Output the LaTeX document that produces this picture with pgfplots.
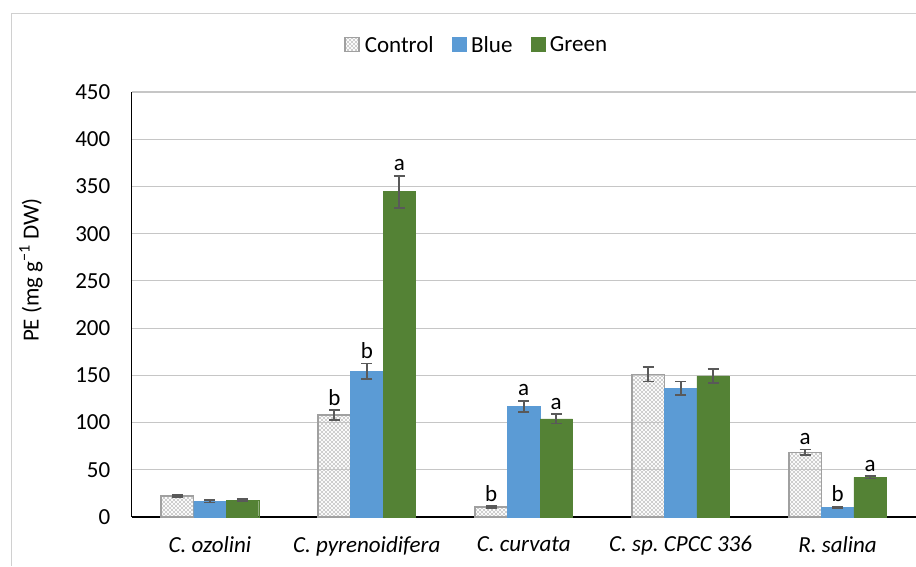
\documentclass[border=0pt]{standalone}
\usepackage{pgfplots}
\pgfplotsset{compat=1.18}
\usepackage{pgfplotstable}
\usepackage{fontspec}
\setmainfont{Carlito}
\usetikzlibrary{patterns}
\definecolor{barblue}{HTML}{5B9BD5}
\definecolor{bargreen}{HTML}{548235}
\definecolor{ctrlgray}{HTML}{A0A0A0}
\definecolor{hatchgray}{HTML}{C4C4C4}
\definecolor{errgray}{HTML}{595959}
\definecolor{gridgray}{HTML}{C6C6C6}
\definecolor{framegray}{HTML}{D0D0D0}
\frenchspacing

\pgfdeclarepatternformonly{diagcross}{\pgfqpoint{-0.5pt}{-0.5pt}}{\pgfqpoint{4.5pt}{4.5pt}}{\pgfqpoint{4pt}{4pt}}{%
 \pgfsetlinewidth{0.6pt}%
 \pgfpathmoveto{\pgfqpoint{0pt}{0pt}}\pgfpathlineto{\pgfqpoint{4pt}{4pt}}%
 \pgfpathmoveto{\pgfqpoint{0pt}{4pt}}\pgfpathlineto{\pgfqpoint{4pt}{0pt}}%
 \pgfusepath{stroke}}

\pgfplotstableread{
x c ce cl b be bl g ge gl
0 22.0 1.2 {} 16.6 1.2 {} 17.7 1.2 {}
1 108.0 5.0 b 154.5 8.0 b 344.5 17.0 a
2 10.5 0.8 b 117.0 6.0 a 104.0 5.0 a
3 151.0 7.5 {} 136.5 7.0 {} 149.5 7.5 {}
4 68.5 3.0 a 10.0 0.6 b 42.0 1.2 a
}\pedata

\newcommand{\bigfont}{\fontsize{23}{28}\selectfont}

\pgfplotsset{
 mylegend/.style={legend image code/.code={\draw[##1] (0pt,-6.5pt) rectangle (14pt,7.5pt);}},
 letters/.style={nodes near coords, point meta=explicit symbolic,
   visualization depends on={\thisrow{#1}\as\myerr},
   every node near coord/.append style={anchor=base, inner sep=0pt, yshift={(0.9444*\myerr+5)*1pt}, font=\bigfont, text=black}},
 myerr/.style={error bars/.cd, y dir=both, y explicit,
   error bar style={line width=1.9pt, errgray},
   error mark options={rotate=90, mark size=5.5pt, line width=1.9pt, errgray}},
}

\begin{document}
\begin{tikzpicture}
\useasboundingbox (0,0) rectangle (916pt,566pt);
\draw[framegray, line width=1pt] (11pt,0) -- (11pt,552pt) -- (916pt,552pt);
\begin{axis}[
 at={(131.5pt,49pt)}, anchor=south west,
 width=784.5pt, height=425pt, scale only axis,
 ybar=0pt, bar width=32.5pt,
 xmin=-0.5, xmax=4.5, ymin=0, ymax=450,
 xtick={0,1,2,3,4},
 xticklabels={\textit{C. ozolini}, \textit{C. pyrenoidifera}, \textit{C. curvata}, \textit{C. sp. CPCC 336}, \textit{R. salina}},
 ytick={0,50,...,450},
 axis x line*=bottom, axis y line*=left,
 axis line style={-, black, line width=1.3pt},
 ymajorgrids, grid style={gridgray, line width=1.2pt},
 major tick length=0pt,
 tick label style={font=\bigfont},
 /pgf/number format/assume math mode=true,
 yticklabel style={anchor=east, inner sep=0pt, xshift=-21pt},
 xticklabel style={anchor=north, inner sep=0pt, yshift=-19pt},
 legend columns=3,
 legend style={at={(0.44,1.111)}, anchor=center, draw=none, fill=none, font=\bigfont,
   /tikz/every even column/.append style={column sep=16pt},
   /tikz/every odd column/.append style={column sep=3pt}},
]
\addplot[draw=ctrlgray, line width=1.5pt, fill=white, pattern=diagcross, pattern color=hatchgray, mylegend, letters=ce, myerr]
  table[x=x, y=c, y error=ce, meta=cl]{\pedata};
\addplot[draw=barblue, fill=barblue, mylegend, letters=be, myerr]
  table[x=x, y=b, y error=be, meta=bl]{\pedata};
\addplot[draw=bargreen, fill=bargreen, mylegend, letters=ge, myerr]
  table[x=x, y=g, y error=ge, meta=gl]{\pedata};
\legend{Control, Blue, Green}
\end{axis}
\node[rotate=90, font=\bigfont] at (31pt,296pt) {PE (mg g\textsuperscript{−1} DW)};
\end{tikzpicture}
\end{document}
